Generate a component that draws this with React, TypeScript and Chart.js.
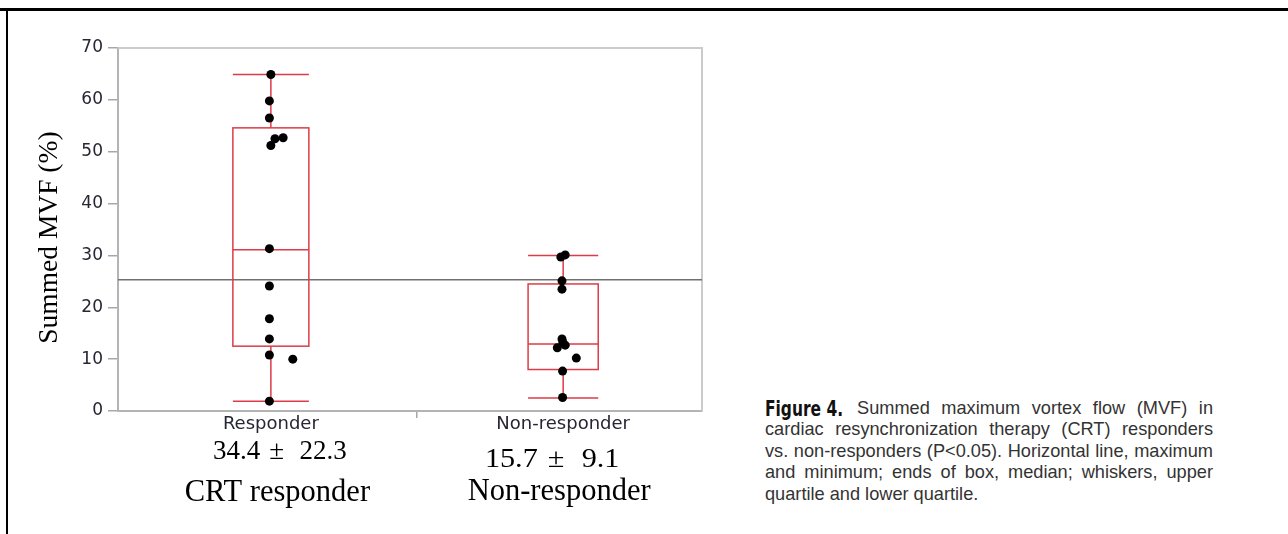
import React, { useEffect, useRef } from "react";
import { Chart, registerables } from "chart.js";

Chart.register(...registerables);

// ---- data ----
const categories = ["Responder", "Non-responder"];
const categoryX = [1, 2];
const summaryLines = ["34.4 \u00B1 22.3", "15.7 \u00B1 9.1"];
const groupNames = ["CRT responder", "Non-responder"];

const boxMax = [64.9, 30.0];
const boxQ3 = [54.6, 24.5];
const boxMedian = [31.1, 12.9];
const boxQ1 = [12.5, 8.0];
const boxMin = [1.9, 2.5];
const referenceLine = 25.3;

const responderY = [64.9, 59.8, 56.5, 52.7, 52.5, 51.2, 31.3, 24.1, 17.8, 13.9, 10.8, 10.0, 1.9];
const responderX = [1.0, 0.995, 0.995, 1.042, 1.014, 1.0, 0.995, 0.995, 0.995, 0.995, 0.995, 1.075, 0.995];

const nonResponderY = [30.1, 29.7, 25.1, 23.5, 13.9, 13.2, 12.2, 12.7, 10.2, 7.7, 2.6];
const nonResponderX = [2.007, 1.992, 1.996, 1.996, 1.996, 1.999, 1.98, 2.007, 2.045, 1.998, 1.998];

const yTicks = [0, 10, 20, 30, 40, 50, 60, 70];
const yTitle = "Summed MVF (%)";

const captionLines = [
  "cardiac resynchronization therapy (CRT) responders",
  "vs. non-responders (P<0.05). Horizontal line, maximum",
  "and minimum; ends of box, median; whiskers, upper",
];
const captionFirst = "Summed maximum vortex flow (MVF) in";
const captionLabel = "Figure 4.";
const captionLast = "quartile and lower quartile.";

// ---- styles ----
const BOX_HALF = [0.13, 0.12];
const RED = "#dc3c48";
const SERIF = "'Liberation Serif', 'Times New Roman', serif";

function drawPlusMinusText(ctx: CanvasRenderingContext2D, text: string, cx: number, baseline: number, size: number, stretch: number) {
  const parts = text.split(" \u00B1 ");
  ctx.save();
  ctx.font = `${size}px ${SERIF}`;
  ctx.textAlign = "left";
  ctx.textBaseline = "alphabetic";
  const left = parts[0] + " ";
  const right = " " + (parts[1] || "");
  const wl = ctx.measureText(left).width;
  const wr = ctx.measureText(right).width;
  const wpm = size * 0.95;
  const total = wl + wpm + wr;
  ctx.translate(cx, baseline);
  ctx.scale(stretch, 1);
  let xPos = -total / 2;
  ctx.fillText(left, xPos, 0);
  xPos += wl;
  ctx.textAlign = "center";
  ctx.fillText("\u00B1", xPos + wpm / 2 - size * 0.12, 0);
  xPos += wpm;
  ctx.textAlign = "left";
  ctx.fillText(right, xPos, 0);
  ctx.restore();
}

const boxPlugin = {
  id: "boxplotDraw",
  beforeDatasetsDraw(chart: any) {
    const { ctx, chartArea } = chart;
    const x = chart.scales.x;
    const y = chart.scales.y;
    ctx.save();
    ctx.strokeStyle = "#cbcbcb";
    ctx.lineWidth = 2;
    ctx.beginPath();
    ctx.moveTo(chartArea.left, chartArea.top);
    ctx.lineTo(chartArea.right, chartArea.top);
    ctx.lineTo(chartArea.right, chartArea.bottom);
    ctx.stroke();

    const ry = y.getPixelForValue(referenceLine);
    ctx.strokeStyle = "#707070";
    ctx.lineWidth = 1.5;
    ctx.beginPath();
    ctx.moveTo(chartArea.left, ry);
    ctx.lineTo(chartArea.right, ry);
    ctx.stroke();

    ctx.strokeStyle = RED;
    ctx.lineWidth = 1.5;
    categoryX.forEach((cx, i) => {
      const l = x.getPixelForValue(cx - BOX_HALF[i]);
      const r = x.getPixelForValue(cx + BOX_HALF[i]);
      const c = x.getPixelForValue(cx);
      const yMax = y.getPixelForValue(boxMax[i]);
      const yQ3 = y.getPixelForValue(boxQ3[i]);
      const yMed = y.getPixelForValue(boxMedian[i]);
      const yQ1 = y.getPixelForValue(boxQ1[i]);
      const yMin = y.getPixelForValue(boxMin[i]);
      ctx.strokeRect(l, yQ3, r - l, yQ1 - yQ3);
      ctx.beginPath();
      ctx.moveTo(l, yMed);
      ctx.lineTo(r, yMed);
      ctx.moveTo(c, yQ3);
      ctx.lineTo(c, yMax);
      ctx.moveTo(c, yQ1);
      ctx.lineTo(c, yMin);
      ctx.moveTo(l, yMax);
      ctx.lineTo(r, yMax);
      ctx.moveTo(l, yMin);
      ctx.lineTo(r, yMin);
      ctx.stroke();
    });
    ctx.restore();
  },
  afterDraw(chart: any) {
    const { ctx } = chart;
    const x = chart.scales.x;
    ctx.save();
    ctx.fillStyle = "#000";
    ctx.save();
    ctx.translate(57, 237.6);
    ctx.rotate(-Math.PI / 2);
    ctx.font = `27.5px ${SERIF}`;
    ctx.textAlign = "center";
    ctx.textBaseline = "alphabetic";
    ctx.fillText(yTitle, 0, 0);
    ctx.restore();

    const sumOff = [9, -11];
    const sumBase = [459, 467];
    const sumStretch = [1.0, 1.12];
    const nameOff = [6.5, -4];
    const nameBase = [500.5, 500];
    categoryX.forEach((cx, i) => {
      const px = x.getPixelForValue(cx);
      drawPlusMinusText(ctx, summaryLines[i], px + sumOff[i], sumBase[i], 27, sumStretch[i]);
      ctx.font = `30.5px ${SERIF}`;
      ctx.textAlign = "center";
      ctx.textBaseline = "alphabetic";
      ctx.fillText(groupNames[i], px + nameOff[i], nameBase[i]);
    });
    ctx.restore();
  },
};

export default function App() {
  const ref = useRef<HTMLCanvasElement | null>(null);

  useEffect(() => {
    if (!ref.current) return;
    const chart = new Chart(ref.current, {
      type: "scatter",
      data: {
        datasets: [
          {
            label: categories[0],
            data: responderX.map((v, i) => ({ x: v, y: responderY[i] })),
            pointRadius: 4.5,
            pointBackgroundColor: "#000",
            pointBorderWidth: 0,
            clip: false as any,
          },
          {
            label: categories[1],
            data: nonResponderX.map((v, i) => ({ x: v, y: nonResponderY[i] })),
            pointRadius: 4.5,
            pointBackgroundColor: "#000",
            pointBorderWidth: 0,
            clip: false as any,
          },
        ],
      },
      options: {
        responsive: false,
        animation: false,
        events: [],
        layout: { padding: { top: 48, right: 18, left: 0, bottom: 0 } },
        plugins: {
          legend: { display: false },
          tooltip: { enabled: false },
          title: { display: false },
        },
        scales: {
          x: {
            type: "linear",
            min: 0.477,
            max: 2.475,
            afterFit: (s: any) => {
              s.height = 123;
            },
            afterBuildTicks: (s: any) => {
              s.ticks = [{ value: 1 }, { value: 1.5 }, { value: 2 }];
            },
            border: { display: true, color: "#b4b4b4", width: 2 },
            grid: {
              drawOnChartArea: false,
              drawTicks: true,
              tickLength: 7,
              lineWidth: 1.5,
              color: (c: any) => (c.tick && c.tick.value === 1.5 ? "#a8a8a8" : "rgba(0,0,0,0)"),
            },
            ticks: {
              autoSkip: false,
              maxRotation: 0,
              padding: -4,
              color: "#262634",
              font: { family: "'DejaVu Sans', sans-serif", size: 18 },
              callback: (v: any) => {
                const idx = categoryX.indexOf(Number(v));
                return idx >= 0 ? categories[idx] : "";
              },
            },
          },
          y: {
            type: "linear",
            min: 0,
            max: 70,
            afterFit: (s: any) => {
              s.width = 118;
            },
            afterBuildTicks: (s: any) => {
              s.ticks = yTicks.map((v) => ({ value: v }));
            },
            border: { display: true, color: "#b4b4b4", width: 2 },
            grid: {
              drawOnChartArea: false,
              drawTicks: true,
              tickLength: 10,
              lineWidth: 1.5,
              color: "#a8a8a8",
            },
            ticks: {
              padding: 5,
              color: "#262634",
              font: { family: "'DejaVu Sans', sans-serif", size: 17 },
            },
          },
        },
      },
      plugins: [boxPlugin],
    });
    return () => chart.destroy();
  }, []);

  const lineStyle: React.CSSProperties = {
    textAlign: "justify",
    textAlignLast: "justify" as any,
    whiteSpace: "nowrap",
    height: 21.5,
  };

  return (
    <div
      style={{
        position: "absolute",
        left: 0,
        top: 0,
        width: 1288,
        height: 534,
        background: "#fff",
        overflow: "hidden",
      }}
    >
      <canvas
        ref={ref}
        width={720}
        height={534}
        style={{ position: "absolute", left: 0, top: 0, width: 720, height: 534, display: "block" }}
      />
      <div style={{ position: "absolute", left: 0, top: 8, width: 1288, height: 3, background: "#000" }} />
      <div style={{ position: "absolute", left: 6, top: 8, width: 2, height: 526, background: "#000" }} />
      <div
        style={{
          position: "absolute",
          left: 765,
          top: 397.5,
          width: 448,
          fontFamily: "'Liberation Sans', Arial, sans-serif",
          fontSize: 18.2,
          lineHeight: "21.5px",
          color: "#333",
        }}
      >
        <div style={{ display: "flex", justifyContent: "space-between", height: 21.5, whiteSpace: "nowrap" }}>
          <span style={{ display: "inline-block", width: 79, marginRight: 13, overflow: "visible" }}>
            <span
              style={{
                display: "inline-block",
                fontFamily: "'Liberation Sans Narrow', 'DejaVu Sans Condensed', sans-serif",
                fontWeight: 700,
                fontSize: 21.5,
                color: "#111",
                transform: "scaleX(0.8)",
                transformOrigin: "left center",
              }}
            >
              {captionLabel}
            </span>
          </span>
          <span style={{ flex: 1, ...lineStyle }}>{captionFirst}</span>
        </div>
        {captionLines.map((t, i) => (
          <div key={i} style={lineStyle}>
            {t}
          </div>
        ))}
        <div style={{ whiteSpace: "nowrap", height: 21.5 }}>{captionLast}</div>
      </div>
    </div>
  );
}
